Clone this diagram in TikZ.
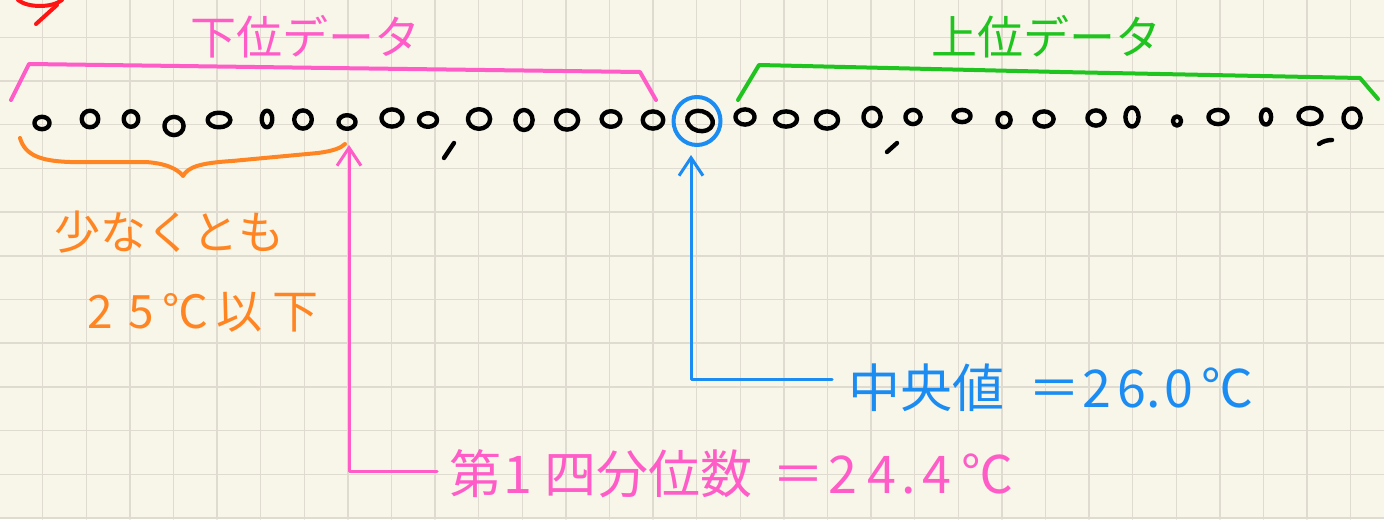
\documentclass[tikz,border=0pt]{standalone}
\usepackage{fontspec}
\usetikzlibrary{arrows.meta}
\newfontfamily\jp{Noto Sans CJK JP}
\definecolor{paper}{HTML}{F8F5E9}
\definecolor{gridc}{HTML}{DFDBD0}
\definecolor{pinkc}{HTML}{FF5CC8}
\definecolor{orangec}{HTML}{FF8522}
\definecolor{greenc}{HTML}{1FC41F}
\definecolor{bluec}{HTML}{1A8CF2}
\definecolor{redc}{HTML}{FF1414}
\begin{document}
\begin{tikzpicture}[x=0.5pt,y=-0.5pt,line cap=round,line join=round,
  dotc/.style={line width=2.2pt,black},
  brack/.style={line width=2pt},
  arr/.style={line width=1.5pt,-{Straight Barb[length=9pt,width=12pt]}},
  lbl/.style={inner sep=0pt,anchor=west},
  fsmall/.style={font={\jp\fontsize{23pt}{23pt}\selectfont}},
  fbig/.style={font={\jp\fontsize{26pt}{26pt}\selectfont}}]
\fill[paper] (0,0) rectangle (1384,519);
\useasboundingbox (0,0) rectangle (1384,519);
% grid
\foreach \i in {0,...,31} \draw[gridc,line width=0.75pt] ({42.7+43.6*(\i-1)},0) -- ++(0,519);
\foreach \j in {0,...,11} \draw[gridc,line width=0.75pt] (0,{37.3+43.7*\j}) -- ++(1384,0);
% red remnant stroke
\draw[redc,line width=2pt] (18,0) .. controls (28,8) and (52,8) .. (62,0);
\draw[redc,line width=2pt] (57,5) -- (36,24);
% titles
\node[lbl,fsmall,text=pinkc] (lowtitle) at (190,37) {下位データ};
\node[lbl,fsmall,text=greenc] (uptitle) at (931,37) {上位データ};
% brackets
\draw[brack,pinkc] (11,100) -- (29,64) -- (330,68) -- (640,72) -- (656,100);
\draw[brack,greenc] (738,100) -- (759,65) -- (1060,72) -- (1360,78) -- (1378,99);
% data dots
\foreach \x/\y/\a/\b in {42/123/6.8/5.4, 90/119/7.5/7.5, 131/119/6.5/7, 174/126/8.8/8.3, 219/120/10.6/6.5,
  267/119/4.5/7.5, 303/119.5/8/8.3, 347/122/7.8/6, 392/118/9.8/7.8, 428/120/8.3/6, 479/119/10.3/9,
  524/120/7.8/9.2, 567/120/10.3/8.8, 611/119/8.6/7, 653/120/9.5/7.8,
  745/117/8.8/6.8, 786/119/10.3/6.8, 827/120/10.3/7.8, 872/117/7.8/8.3, 913/117/6.8/6.3,
  962/116/7.8/5.3, 1004/120/5.8/6.3, 1044/119/8.8/6.8, 1096/118/7.8/6.8, 1132/117/5.8/8.8,
  1177/121/3.3/3.8, 1218/117/8.8/6.3, 1266/117/4.3/6.8, 1310/116/10.8/7.3, 1352/118/7.8/8.8}
  \draw[dotc] (\x,\y) ellipse [x radius=\a+0.8,y radius=\b+0.8];
\draw[dotc,rotate around={-15:(700,121)}] (700,121) ellipse [x radius=13,y radius=10];
% tick marks
\draw[dotc] (444,158) -- (454,143);
\draw[dotc] (887,152) -- (897,143);
\draw[dotc] (1319,144) .. controls (1323,141) and (1328,140) .. (1332,140);
% median circle
\draw[bluec,line width=2pt] (697,121) ellipse [x radius=23.5,y radius=24];
% orange brace
\draw[brack,orangec] (20,138) .. controls (25,155) and (40,161) .. (70,162) -- (145,162)
  .. controls (165,163) and (178,169) .. (183,176)
  .. controls (188,167) and (200,163) .. (232,161) -- (318,153)
  .. controls (333,151) and (341,148) .. (345,144);
% orange text
\node[lbl,fsmall,text=orangec] (atleast) at (54,232) {少なくとも};
\node[lbl,fsmall,text=orangec] (below25) at (87,312) {2\hspace{8pt}5\hspace{4pt}℃\hspace{4pt}以\hspace{5pt}下};
% labels
\node[lbl,fbig,text=bluec] (medtxt) at (848,388) {中央値\hspace{12pt}＝\hspace{1pt}2\hspace{3pt}6.\hspace{2pt}0\hspace{4pt}℃};
\node[lbl,fbig,text=pinkc] (q1txt) at (449,474) {第\hspace{1pt}1\hspace{6pt}四分位数\hspace{10pt}＝\hspace{2pt}2\hspace{5pt}4\hspace{3pt}.\hspace{3pt}4\hspace{5pt}℃};
% connectors
\coordinate (q1tip) at (349,145);
\coordinate (medtip) at (691,155);
\draw[arr,pinkc] ([xshift=-6]q1txt.west |- 0,471) -| (q1tip);
\draw[arr,bluec] ([xshift=-8]medtxt.west |- 0,379) -| (medtip);
\end{tikzpicture}
\end{document}
